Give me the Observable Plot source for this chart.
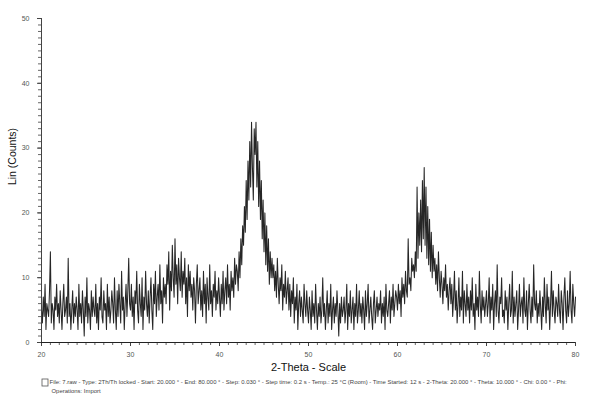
<!DOCTYPE html>
<html><head><meta charset="utf-8">
<script src="https://cdn.jsdelivr.net/npm/d3@7"></script>
<script src="https://cdn.jsdelivr.net/npm/@observablehq/plot@0.6"></script>
<style>body{margin:0;background:#fff;} svg{display:block;}</style>
</head><body><div id="chart"></div>
<script>
const start = 20, step = 0.1;
const counts = [
5,3,7,4,9,2,6,5,4,8,14,3,6,5,2,7,5,9,4,6,
3,8,5,2,6,9,4,5,7,3,13,4,6,2,5,8,3,6,4,7,
5,2,9,4,6,3,8,5,1,7,4,10,3,6,5,2,8,4,7,5,
4,9,3,6,2,7,5,10,4,3,8,5,6,2,9,4,7,3,5,8,
6,3,10,5,2,8,4,9,6,3,11,5,7,2,6,9,4,8,13,6,
5,9,4,7,2,8,6,11,5,3,9,6,4,10,2,7,5,11,6,4,
8,3,7,10,5,2,9,6,11,4,7,9,5,12,6,8,3,10,7,9,
6,12,9,14,5,11,8,15,10,7,16,9,12,6,13,10,8,14,7,11,
9,13,6,10,4,12,8,11,7,9,5,10,8,3,9,12,6,8,10,5,
8,4,11,6,9,3,10,7,5,12,6,8,4,9,7,11,5,8,6,10,
7,4,9,6,11,5,8,10,6,12,7,9,5,11,8,10,7,13,9,12,
11,8,14,10,16,12,18,15,21,17,25,19,28,22,31,24,34,27,22,33,
29,34,24,31,21,28,19,25,16,22,14,20,12,18,11,16,9,14,10,13,
10,12,8,11,7,13,9,6,10,8,12,5,9,7,11,6,8,10,5,9,
4,8,6,10,3,7,5,9,2,6,8,4,7,5,3,9,6,4,8,5,
3,7,5,2,8,4,6,3,9,5,2,6,4,7,3,5,10,4,6,2,
5,8,3,6,4,9,2,5,7,3,6,4,8,5,1,6,3,7,4,5,
7,3,5,9,2,6,4,8,3,5,7,2,6,4,9,3,5,8,4,6,
3,7,5,2,8,4,6,9,3,5,7,4,2,6,8,3,5,7,4,6,
5,8,3,6,4,7,2,9,5,4,6,8,3,7,5,9,4,6,8,7,
5,9,6,8,4,10,7,9,6,11,8,7,16,9,10,8,13,11,12,10,
14,11,24,13,20,15,22,14,25,16,27,15,24,13,21,12,19,11,17,10,
15,11,13,9,12,8,14,10,7,11,9,6,10,8,12,7,9,5,8,10,
6,9,4,7,11,5,8,3,6,10,4,7,5,11,3,8,6,4,9,5,
7,3,8,5,10,4,6,2,9,5,7,4,11,6,3,8,5,7,4,6,
8,4,6,10,3,7,5,9,2,6,8,4,12,5,3,7,6,10,4,5,
3,8,5,7,2,6,9,4,5,11,3,7,4,6,8,2,5,9,4,6,
7,3,10,5,4,8,2,6,9,5,3,7,4,12,6,5,8,3,6,4,
8,5,2,7,4,10,6,3,9,5,7,2,6,11,4,8,5,3,7,6,
4,9,5,3,8,6,2,7,10,5,3,8,4,6,11,5,3,9,6,4,7
];
const xTickLabels = [20,30,40,50,60,70,80];
const yTickLabels = [0,10,20,30,40,50];
const xLabel = "2-Theta - Scale";
const yLabel = "Lin (Counts)";
const footer1 = "File: 7.raw - Type: 2Th/Th locked - Start: 20.000 ° - End: 80.000 ° - Step: 0.030 ° - Step time: 0.2 s - Temp.: 25 °C (Room) - Time Started: 12 s - 2-Theta: 20.000 ° - Theta: 10.000 ° - Chi: 0.00 ° - Phi:";
const footer2 = "Operations: Import";

const data = counts.map((c, i) => ({x: start + i * step, y: c}));

const chart = Plot.plot({
  width: 600, height: 402,
  marginLeft: 41, marginRight: 25, marginTop: 18, marginBottom: 60,
  style: {fontFamily: "Liberation Sans, Arial, sans-serif", fontSize: "7px", color: "#444", background: "#fff"},
  x: {domain: [20, 80], label: null},
  y: {domain: [0, 50], label: null},
  marks: [
    Plot.axisX({ticks: d3.range(20, 81, 1), tickSize: 3, tickFormat: () => "", stroke: "#666", label: null}),
    Plot.axisX({ticks: xTickLabels, tickSize: 4, tickPadding: 6, stroke: "#444", fill: "#555", label: null}),
    Plot.axisY({ticks: d3.range(0, 51, 1), tickSize: 3, tickFormat: () => "", stroke: "#666", label: null}),
    Plot.axisY({ticks: yTickLabels, tickSize: 4, tickPadding: 8, stroke: "#444", fill: "#555", label: null}),
    Plot.line(data, {x: "x", y: "y", stroke: "#000", strokeWidth: 1.05, strokeOpacity: 0.85}),
    Plot.ruleY([0], {stroke: "#222", strokeWidth: 1}),
    Plot.ruleX([20], {stroke: "#444", strokeWidth: 1}),
    Plot.text([xLabel], {frameAnchor: "bottom", dy: 28, fontSize: 11, fill: "#111"}),
    Plot.text([yLabel], {frameAnchor: "left", textAnchor: "middle", dx: -29, dy: -24, rotate: -90, fontSize: 10.5, fill: "#111"}),
    Plot.text([footer1], {frameAnchor: "bottom-left", dx: 8, dy: 41, textAnchor: "start", fontSize: 5.95, fill: "#444"}),
    Plot.text([footer2], {frameAnchor: "bottom-left", dx: 10, dy: 50, textAnchor: "start", fontSize: 5.95, fill: "#444"})
  ]
});
document.getElementById("chart").appendChild(chart);
// small file icon before footer
d3.select(chart).append("rect").attr("x", 42).attr("y", 379).attr("width", 6).attr("height", 7)
  .attr("fill", "none").attr("stroke", "#555").attr("stroke-width", 0.8);
</script>
</body></html>
